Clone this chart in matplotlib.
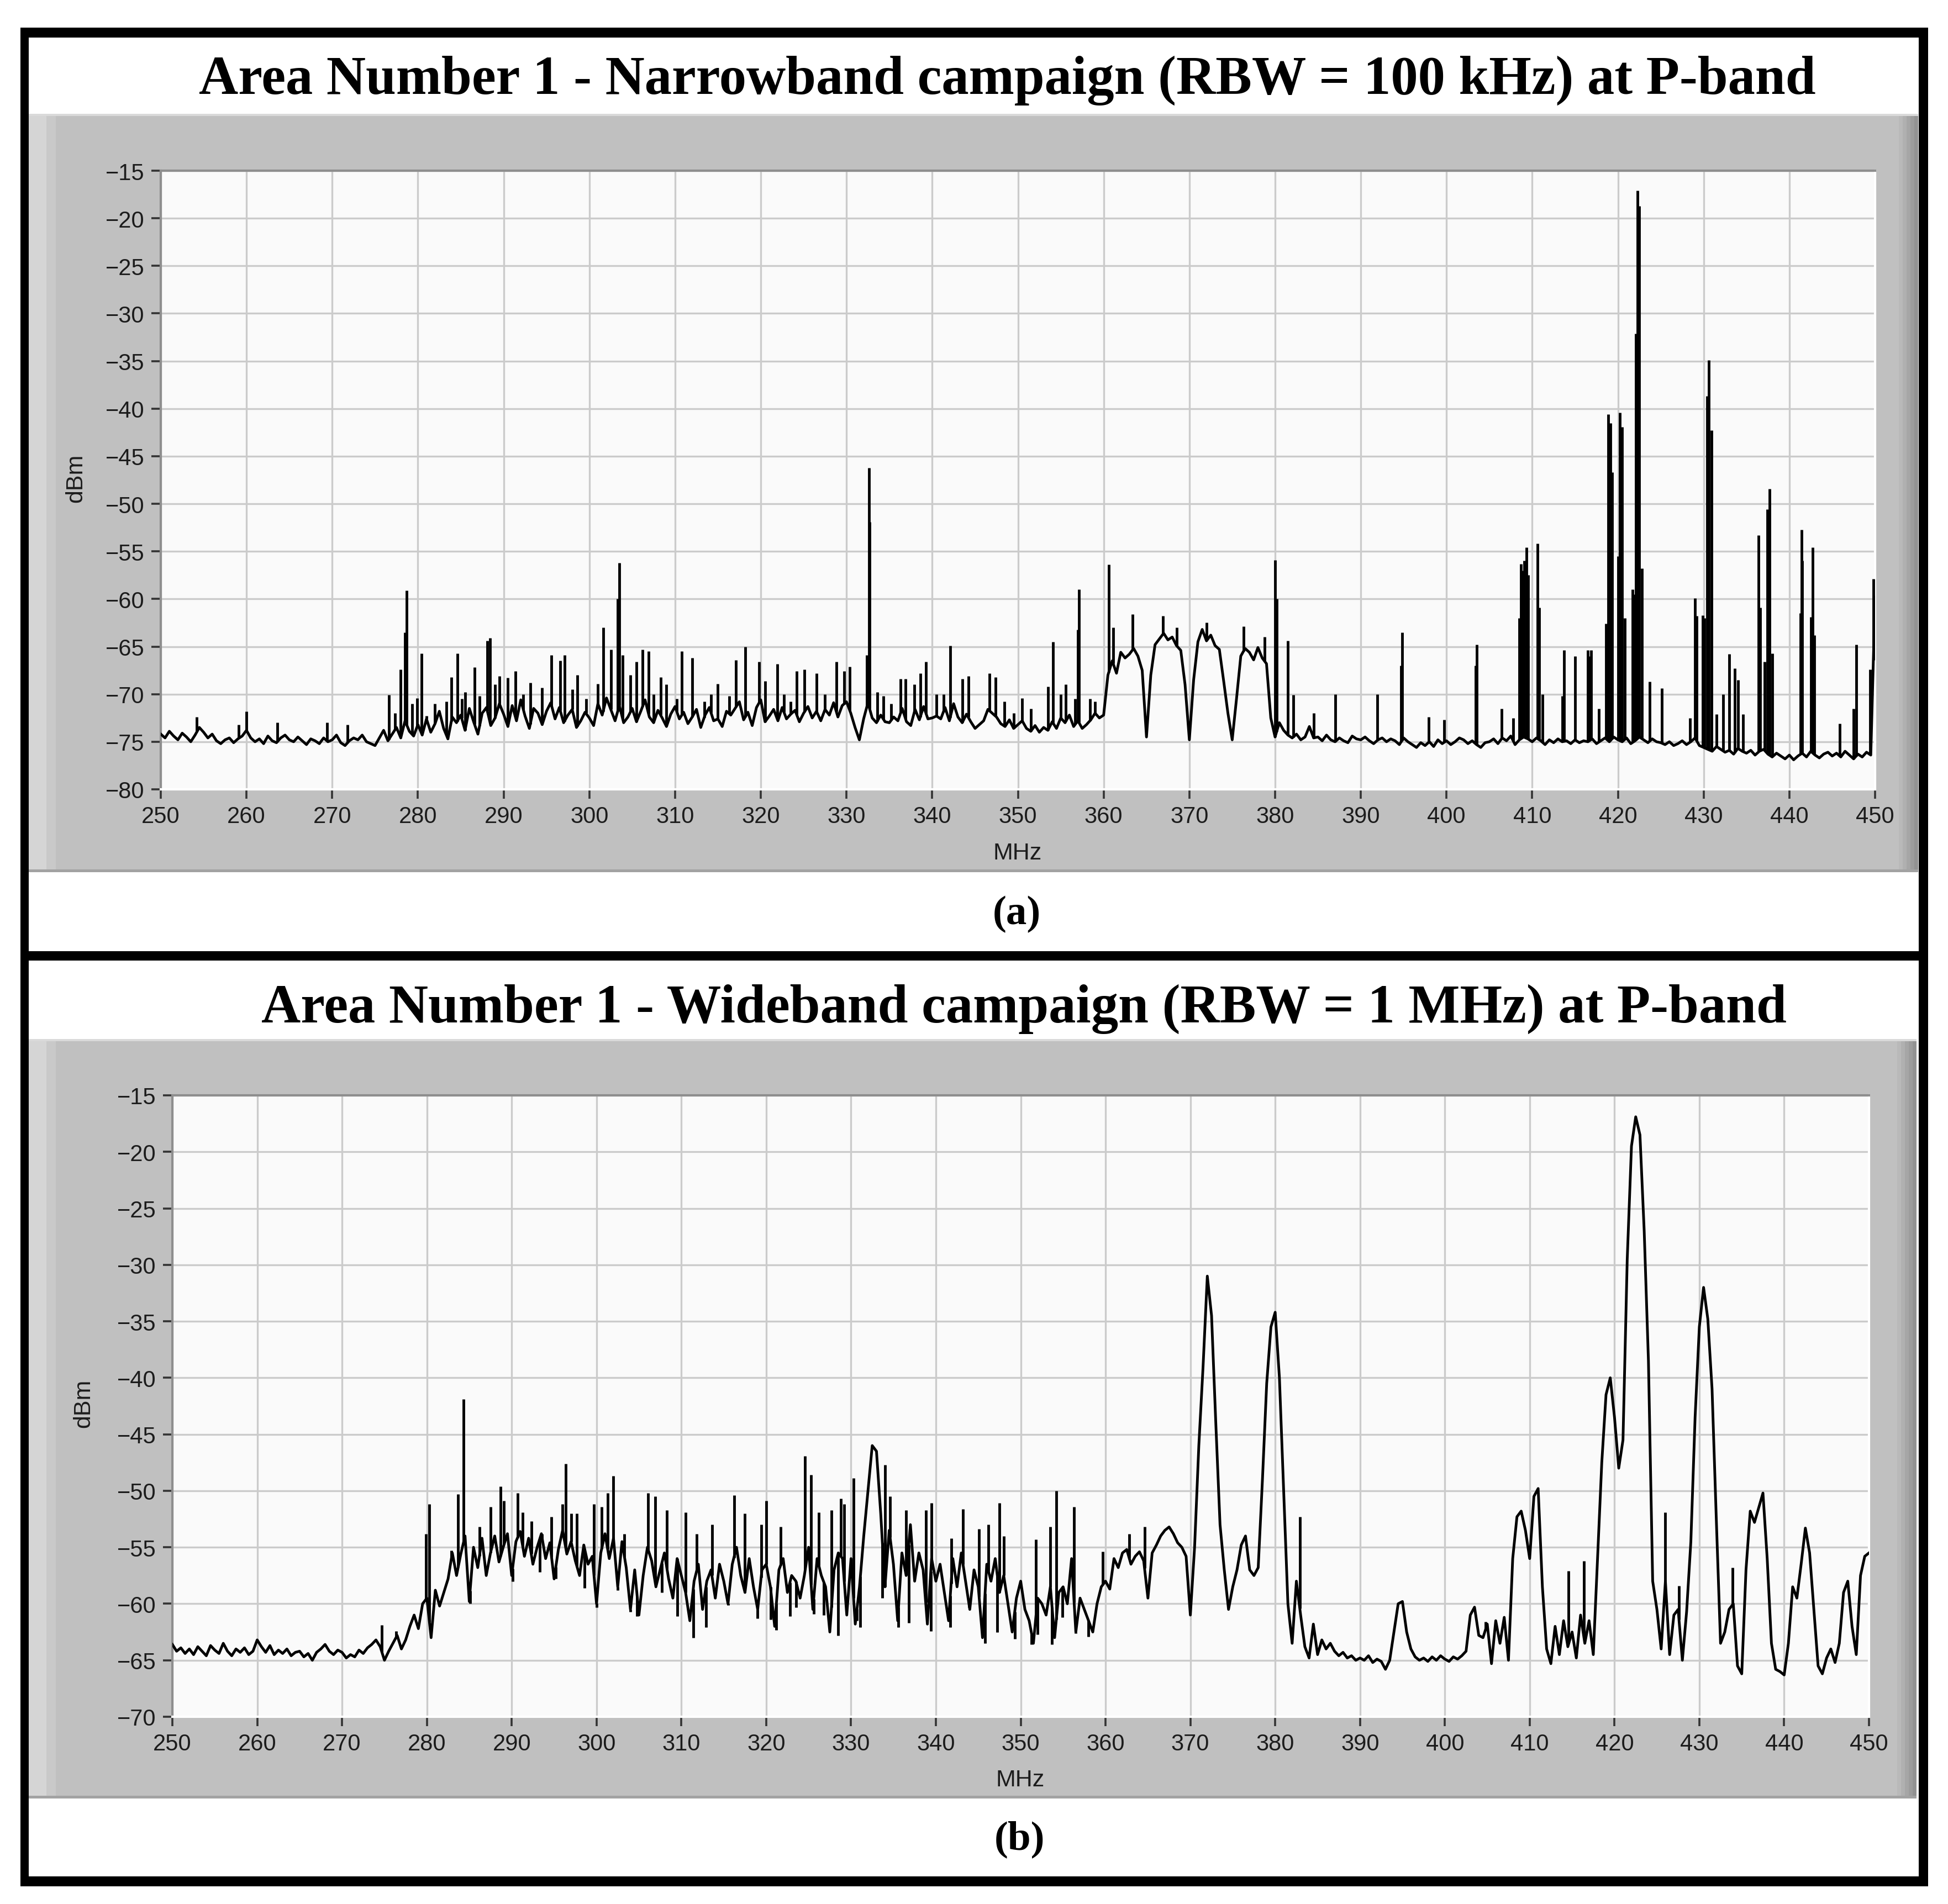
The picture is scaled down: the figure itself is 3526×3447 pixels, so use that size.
import numpy as np
import matplotlib.pyplot as plt
from matplotlib import font_manager
from matplotlib.patches import Rectangle

# sweep settings (both campaigns sweep 250-450 MHz, trace read every 0.5 MHz)
sweep_start, sweep_stop, sweep_step = 250.0, 450.0, 0.5

title_a = "Area Number 1 - Narrowband campaign (RBW = 100 kHz) at P-band"
title_b = "Area Number 1 - Wideband campaign (RBW = 1 MHz) at P-band"
freq_ticks = list(range(250, 451, 10))
dbm_ticks_a = list(range(-80, -14, 5))
dbm_ticks_b = list(range(-70, -14, 5))

# narrowband trace, one line per 5 MHz (250.0 ... 254.5, 255.0 ...)
nb_dbm = [
    -74.2, -74.6, -73.9, -74.4, -74.8, -74.1, -74.5, -75.0, -74.3, -73.5,
    -74.0, -74.6, -74.2, -74.9, -75.2, -74.8, -74.6, -75.1, -74.7, -74.4,
    -73.8, -74.6, -75.0, -74.7, -75.2, -74.4, -74.9, -75.1, -74.6, -74.3,
    -74.8, -75.0, -74.5, -74.9, -75.3, -74.7, -74.9, -75.2, -74.6, -75.0,
    -74.8, -74.3, -75.1, -75.4, -74.9, -74.6, -74.8, -74.3, -75.0, -75.2,
    -75.4, -74.6, -73.8, -74.9, -74.2, -73.5, -74.6, -72.8, -73.9, -74.4,
    -73.2, -74.3, -72.6, -74.0, -73.1, -71.8, -73.6, -74.7, -72.4, -73.0,
    -72.2, -73.8, -71.5, -72.9, -74.2, -72.0, -71.4, -73.3, -72.5, -71.0,
    -72.1, -73.4, -71.2, -72.8, -70.6, -72.3, -73.6, -71.5, -72.0, -73.2,
    -71.8, -70.9, -72.6, -71.4, -73.0, -72.2, -71.6, -73.5, -72.8, -71.9,
    -72.5, -73.3, -71.0, -72.2, -70.4, -71.6, -72.8, -71.2, -73.0, -72.4,
    -71.5, -72.9, -71.8, -70.6, -72.4, -73.0, -71.7, -72.5, -73.4, -72.1,
    -71.3, -72.6, -71.9, -73.1, -72.4, -71.6, -73.5, -72.2, -71.4, -72.8,
    -72.6, -73.4, -71.8, -72.2, -71.5, -70.8, -72.7, -71.9, -73.3, -71.4,
    -70.6, -72.9, -72.3, -71.6, -72.8, -71.4, -72.6, -72.1, -71.7, -72.9,
    -72.0, -71.3, -72.5, -71.8, -72.8, -71.6, -72.2, -70.9, -72.4, -71.2,
    -70.8, -72.0, -73.5, -74.8, -72.6, -70.9, -72.5, -73.0, -72.2, -72.9,
    -73.0, -72.4, -72.8, -71.5, -72.9, -73.3, -71.6, -72.7, -71.3, -72.6,
    -72.5, -72.3, -72.6, -71.4, -72.8, -71.0, -72.4, -73.0, -72.1, -72.9,
    -73.6, -73.2, -72.8, -71.6, -72.0, -72.4, -73.1, -73.4, -72.7, -73.6,
    -73.2, -72.8, -73.6, -73.9, -73.3, -74.0, -73.5, -73.8, -72.9, -73.6,
    -72.5, -73.0, -72.2, -73.4, -72.8, -73.6, -73.2, -72.7, -72.0, -72.5,
    -72.2, -68.0, -66.5, -67.8, -65.6, -66.2, -65.8, -65.2, -66.0, -67.5,
    -74.5, -68.0, -64.8, -64.2, -63.6, -64.3, -64.0, -64.9, -65.4, -69.0,
    -74.8, -68.5, -64.5, -63.2, -64.4, -63.8, -64.9, -65.3, -68.6, -72.0,
    -74.8, -70.5, -66.0, -65.2, -65.6, -66.4, -65.1, -66.2, -66.8, -72.5,
    -74.5, -73.0, -73.8, -74.3, -74.6, -74.2, -74.8, -74.5, -73.4, -74.6,
    -74.5, -74.9, -74.3, -74.8, -75.0, -74.6, -74.9, -75.1, -74.4, -74.7,
    -74.8, -74.5, -74.9, -75.2, -74.8, -74.6, -75.0, -74.7, -74.9, -75.3,
    -74.6, -75.0, -75.3, -75.6, -75.1, -75.4, -75.0, -75.5, -74.8, -75.2,
    -74.9, -75.3, -75.0, -74.6, -74.8, -75.2, -74.9, -75.3, -75.6, -75.1,
    -75.0, -74.7, -75.2, -74.6, -74.9, -74.4, -75.3, -74.8, -74.5, -74.7,
    -75.0, -74.6, -74.9, -75.3, -74.8, -75.1, -74.7, -75.0, -74.9, -75.2,
    -74.8, -75.1, -74.9, -75.0, -74.7, -75.2, -74.9, -74.6, -75.0, -74.5,
    -74.8, -75.0, -74.6, -75.2, -74.9, -74.5, -74.8, -75.1, -74.7, -75.0,
    -75.1, -75.3, -75.0, -75.4, -75.2, -74.9, -75.3, -75.0, -74.6, -75.4,
    -75.6, -75.8, -76.0, -75.5, -75.8, -76.1, -75.9, -76.3, -75.7, -76.0,
    -76.2, -75.9, -76.4, -76.0, -75.8, -76.3, -76.6, -76.2, -76.5, -76.8,
    -76.4, -76.9, -76.5, -76.2, -76.6, -76.0, -76.4, -76.7, -76.3, -76.1,
    -76.5, -76.2, -76.6, -76.0, -76.4, -76.8, -76.3, -76.6, -76.1, -76.4,
    -59.8,
]

# narrow carriers sticking out of the narrowband trace (MHz, peak dBm)
nb_spikes = [
    (254.2, -72.4), (259.1, -73.2), (260.0, -71.8), (263.6, -73.0), (269.4, -73.0),
    (271.8, -73.2), (276.6, -70.1), (277.3, -72.0), (278.0, -67.4), (278.5, -63.5),
    (278.7, -59.1), (279.3, -71.0), (279.9, -70.4), (280.4, -65.7), (281.0, -72.3),
    (282.0, -71.0), (283.3, -70.8), (283.9, -68.2), (284.6, -65.7), (285.1, -70.5),
    (285.5, -69.8), (286.6, -67.2), (287.2, -70.2), (288.1, -64.4), (288.4, -64.1),
    (289.0, -69.0), (289.5, -68.1), (290.5, -68.3), (291.4, -67.6), (292.3, -70.0),
    (293.1, -68.8), (294.5, -69.3), (295.6, -65.9), (296.6, -66.5), (297.1, -65.9),
    (298.0, -69.5), (298.6, -68.0), (299.6, -70.5), (301.0, -68.9), (301.6, -63.0),
    (302.5, -65.3), (303.3, -60.0), (303.5, -56.2), (303.9, -65.9), (304.8, -68.0),
    (305.5, -66.6), (306.2, -65.3), (306.9, -65.5), (307.5, -70.0), (308.3, -68.2),
    (309.0, -69.0), (310.2, -70.5), (310.8, -65.5), (312.0, -66.2), (313.4, -70.8),
    (314.2, -70.0), (315.0, -68.9), (316.3, -70.2), (317.1, -66.4), (318.2, -65.0),
    (319.8, -66.6), (320.5, -68.6), (321.9, -66.8), (322.7, -70.0), (323.5, -70.8),
    (324.2, -67.6), (325.1, -67.4), (326.5, -67.8), (327.5, -70.0), (328.8, -66.6),
    (329.7, -67.6), (330.4, -67.1), (332.4, -65.9), (332.6, -46.2), (332.7, -51.9),
    (333.6, -69.8), (334.3, -70.2), (335.2, -71.0), (336.3, -68.4), (336.9, -68.4),
    (337.9, -69.0), (338.6, -67.8), (339.3, -66.6), (340.5, -70.0), (341.3, -70.0),
    (342.1, -64.9), (343.5, -68.4), (344.2, -68.1), (346.7, -67.8), (347.4, -68.2),
    (348.4, -70.8), (349.5, -72.0), (350.5, -70.4), (351.5, -71.5), (353.5, -69.2),
    (354.1, -64.5), (355.0, -70.0), (355.6, -69.0), (356.7, -70.5), (357.0, -63.2),
    (357.1, -59.0), (358.4, -70.5), (359.0, -70.8), (360.6, -56.4), (361.1, -63.0),
    (363.4, -61.6), (366.9, -61.8), (368.5, -63.0), (372.0, -62.5), (376.3, -62.9),
    (378.8, -64.0), (380.0, -55.9), (380.2, -60.0), (381.5, -64.4), (382.1, -70.1),
    (384.5, -72.0), (387.0, -70.0), (391.9, -70.0), (394.7, -67.0), (394.8, -63.5),
    (397.9, -72.4), (399.7, -72.7), (403.4, -67.0), (403.5, -64.8), (406.4, -71.5),
    (407.8, -72.5), (408.5, -62.0), (408.7, -56.3), (408.9, -57.0), (409.1, -56.0),
    (409.3, -54.6), (409.5, -57.5), (410.6, -54.2), (410.8, -60.9), (411.2, -70.0),
    (413.5, -70.2), (413.7, -65.4), (415.0, -66.0), (416.5, -65.4), (416.7, -66.0),
    (416.9, -65.4), (417.8, -71.5), (418.6, -62.6), (418.9, -40.6), (419.1, -41.5),
    (419.3, -46.7), (420.0, -55.5), (420.2, -40.4), (420.5, -41.9), (420.8, -62.0),
    (421.7, -59.0), (421.9, -59.5), (422.1, -32.1), (422.3, -17.1), (422.5, -18.7),
    (422.8, -56.8), (423.7, -68.7), (425.1, -69.4), (428.4, -72.5), (429.0, -59.9),
    (429.2, -61.8), (429.9, -61.7), (430.1, -62.0), (430.4, -38.7), (430.6, -34.9),
    (430.9, -42.3), (431.5, -72.1), (432.3, -70.0), (433.0, -65.8), (433.6, -67.3),
    (434.0, -68.5), (434.6, -72.1), (436.4, -53.3), (436.6, -60.9), (437.1, -66.6),
    (437.4, -50.6), (437.7, -48.4), (438.0, -65.7), (441.3, -61.5), (441.4, -52.7),
    (441.5, -56.0), (442.5, -61.9), (442.7, -54.6), (442.9, -63.8), (445.9, -73.1),
    (447.5, -71.5), (447.8, -64.8), (449.4, -67.4), (449.8, -57.9),
]

# wideband trace, one line per 5 MHz
wb_dbm = [
    -63.6, -64.2, -63.9, -64.4, -64.0, -64.5, -63.8, -64.2, -64.6, -63.7,
    -64.1, -64.4, -63.5, -64.2, -64.6, -64.0, -64.3, -63.9, -64.5, -64.2,
    -63.2, -63.8, -64.3, -63.7, -64.5, -64.1, -64.4, -64.0, -64.6, -64.3,
    -64.2, -64.7, -64.4, -65.0, -64.3, -64.0, -63.6, -64.2, -64.5, -64.1,
    -64.3, -64.8, -64.5, -64.7, -64.1, -64.4, -63.9, -63.6, -63.2, -63.8,
    -65.0, -64.2, -63.5, -62.8, -64.0, -63.2, -62.0, -61.0, -62.2, -60.0,
    -59.5, -63.0, -58.8, -60.2, -59.0, -57.8, -55.5, -57.5, -55.6, -54.0,
    -59.8, -55.0, -56.8, -54.2, -57.5, -55.5, -54.0, -56.3, -55.0, -53.8,
    -57.5, -54.5, -53.6, -55.8, -54.2, -56.5, -55.0, -53.8, -56.0, -54.6,
    -57.8, -55.2, -53.5, -55.6, -54.5, -56.2, -57.5, -54.8, -56.5, -55.8,
    -60.0, -55.5, -53.8, -56.0, -54.2, -58.5, -54.5, -56.8, -60.5, -57.0,
    -61.0, -57.5, -55.0, -56.2, -58.5, -57.0, -55.5, -57.8, -59.5, -56.0,
    -57.5, -59.0, -61.5, -58.0, -56.5, -60.5, -58.0, -57.0, -59.5, -56.5,
    -58.0, -60.0, -56.5, -55.0, -57.5, -59.0, -56.0, -58.5, -60.5, -57.0,
    -56.5, -58.5, -62.0, -57.0, -56.0, -59.0, -57.5, -58.0, -59.5, -57.5,
    -55.0, -60.5, -56.0, -57.5, -58.5, -62.5, -57.0, -55.5, -56.0, -61.0,
    -56.0, -61.8, -58.5, -54.0, -50.0, -46.0, -46.5, -52.0, -58.5, -53.5,
    -56.5, -61.5, -55.5, -57.5, -53.0, -58.0, -55.5, -57.0, -61.8, -56.0,
    -58.0, -56.5, -59.0, -61.5, -56.0, -58.5, -55.5, -58.0, -60.5, -57.0,
    -58.5, -63.0, -56.5, -58.0, -56.0, -59.0, -57.5, -60.0, -62.5, -59.5,
    -58.0, -60.5, -61.5, -63.5, -59.5, -60.0, -61.0, -58.5, -63.0, -59.0,
    -58.5, -60.0, -56.0, -62.5, -59.5, -60.5, -61.5, -62.5, -60.0, -58.5,
    -58.0, -58.7, -56.0, -56.8, -55.5, -55.2, -56.5, -55.8, -55.4, -56.2,
    -59.5, -55.5, -54.8, -54.0, -53.5, -53.2, -53.8, -54.6, -55.0, -55.8,
    -61.0, -55.0, -46.0, -39.0, -31.0, -34.5, -44.0, -53.0, -57.0, -60.5,
    -58.5, -57.0, -54.8, -54.0, -57.0, -57.5, -56.8, -49.0, -40.5, -35.5,
    -34.2, -40.0, -50.0, -60.0, -63.5, -58.0, -61.0, -63.8, -64.8, -61.8,
    -64.5, -63.2, -64.0, -63.5, -64.2, -64.6, -64.3, -64.8, -64.6, -65.0,
    -64.8, -65.0, -64.6, -65.2, -64.9, -65.1, -65.8, -65.0, -62.5, -60.0,
    -59.8, -62.5, -64.0, -64.7, -65.0, -64.8, -65.1, -64.7, -65.0, -64.6,
    -64.9, -65.1, -64.7, -64.9, -64.6, -64.2, -61.0, -60.3, -62.8, -63.0,
    -61.8, -65.3, -61.5, -63.5, -61.2, -65.0, -56.0, -52.3, -51.8, -53.5,
    -56.0, -50.5, -49.8, -58.5, -64.0, -65.3, -62.0, -64.5, -61.5, -63.8,
    -62.5, -64.8, -61.0, -63.5, -61.5, -64.5, -56.0, -47.5, -41.5, -40.0,
    -43.5, -48.0, -45.5, -29.5, -19.5, -16.9, -18.5, -27.0, -38.5, -58.0,
    -60.5, -64.0, -58.0, -64.5, -61.0, -60.5, -65.0, -60.7, -54.5, -43.5,
    -35.5, -32.0, -34.8, -41.0, -52.5, -63.5, -62.5, -60.5, -60.0, -65.5,
    -66.2, -57.0, -51.8, -52.8, -51.5, -50.2, -56.0, -63.5, -65.8, -66.0,
    -66.3, -63.5, -58.5, -59.5, -56.5, -53.3, -55.5, -60.5, -65.5, -66.2,
    -64.8, -64.0, -65.2, -63.5, -59.0, -58.0, -62.0, -64.5, -57.5, -55.8,
    -55.5,
]

# narrow excursions of the wideband trace, up (spikes) and down (dips)
wb_spikes = [
    (274.7, -61.9), (276.4, -62.4), (279.9, -53.8), (280.3, -51.2), (282.9, -55.3),
    (283.7, -50.3), (284.3, -41.9), (286.2, -53.2), (287.5, -51.4), (288.7, -49.6),
    (289.1, -50.9), (290.7, -50.2), (291.3, -51.9), (292.3, -52.7), (293.6, -53.8),
    (294.7, -52.3), (296.0, -51.2), (296.4, -47.6), (297.0, -52.0), (297.7, -52.0),
    (299.7, -51.2), (300.6, -51.4), (301.3, -50.2), (302.0, -48.7), (303.3, -53.8),
    (306.1, -50.2), (306.9, -50.5), (308.3, -51.7), (310.5, -51.9), (311.8, -53.8),
    (313.6, -53.0), (316.2, -50.4), (317.5, -52.0), (319.4, -53.0), (320.0, -50.9),
    (321.7, -53.2), (324.6, -46.9), (325.3, -48.6), (326.2, -51.9), (327.7, -51.7),
    (328.8, -50.7), (329.2, -51.2), (330.3, -48.9), (334.0, -47.7), (334.6, -50.5),
    (336.5, -51.7), (338.8, -51.7), (339.5, -51.1), (341.8, -54.2), (343.2, -51.6),
    (345.1, -53.4), (346.2, -53.0), (347.5, -51.1), (348.0, -54.0), (351.8, -54.3),
    (353.5, -53.2), (354.2, -50.0), (356.3, -51.4), (359.7, -55.4), (362.8, -53.8),
    (364.6, -53.2), (382.9, -52.3), (404.8, -61.6), (414.6, -57.1), (416.4, -56.2),
    (426.0, -51.9), (427.6, -58.4), (433.9, -56.8),
]
wb_dips = [
    (285.1, -60.0), (290.1, -58.0), (293.3, -57.2), (295.2, -57.8), (298.6, -58.6),
    (300.0, -60.3), (302.5, -58.8), (304.0, -60.7), (304.8, -61.1), (307.7, -59.0),
    (309.5, -61.1), (311.4, -63.0), (312.9, -62.1), (315.5, -60.1), (319.0, -61.3),
    (320.5, -61.4), (321.2, -62.3), (322.8, -61.1), (323.5, -60.3), (325.6, -60.9),
    (326.8, -61.0), (328.5, -62.8), (330.7, -61.5), (331.1, -62.1), (333.7, -59.5),
    (335.6, -62.1), (336.8, -61.7), (339.4, -62.4), (341.7, -62.1), (343.9, -60.3),
    (345.8, -63.5), (347.2, -62.5), (349.3, -63.1), (351.3, -63.6), (352.0, -62.7),
    (353.7, -63.6), (354.9, -61.2), (356.5, -62.6), (358.0, -62.9),
]

W, H = 3526, 3448
fig = plt.figure(figsize=(W / 100, H / 100), dpi=100)
fig.patch.set_facecolor('white')

def box(x0, y0, x1, y1, color, z=-5):
    # rectangle given in pixels from the top-left corner
    fig.add_artist(Rectangle((x0 / W, 1 - y1 / H), (x1 - x0) / W, (y1 - y0) / H,
                             transform=fig.transFigure, facecolor=color,
                             edgecolor='none', zorder=z))

# LabVIEW style grey graph frames
for top, bottom, right in [(207, 1580, 3472), (1882, 3257, 3469)]:
    box(52, top, right, bottom, '#c0c0c0')
    box(52, top, 84, bottom, '#d5d5d5')
    box(84, top, 101, bottom, '#c9c9c9')
    for i, c in enumerate(['#b9b9b9', '#b0b0b0', '#a6a6a6', '#9c9c9c', '#929292']):
        box(right - 35 + i * 7, top, right - 28 + i * 7, bottom, c)
    box(52, top, right, top + 4, '#dadada')
    box(52, bottom - 5, right, bottom, '#a2a2a2')

# black outer border and divider
box(37, 51, 3490, 69, 'black', 10)
box(37, 3398, 3490, 3416, 'black', 10)
box(37, 51, 52, 3416, 'black', 10)
box(3473, 51, 3490, 3416, 'black', 10)
box(37, 1723, 3490, 1740, 'black', 10)

# condensed sans for the scales if present, plain Liberation Sans otherwise
try:
    font_manager.findfont('Liberation Sans Narrow', fallback_to_default=False)
    tick_font, tick_size = 'Liberation Sans Narrow', 34
except ValueError:
    tick_font, tick_size = 'Liberation Sans', 30

TRACE_LW = 3.5

def spectrum_axes(left, top, right, bottom, trace, ylim, yticks):
    ax = fig.add_axes([left / W, 1 - bottom / H, (right - left) / W, (bottom - top) / H])
    ax.set_facecolor('#fafafa')
    freqs = np.arange(sweep_start, sweep_stop + sweep_step / 2, sweep_step)
    ax.plot(freqs, trace, color='black', lw=TRACE_LW, zorder=3)
    ax.set_xlim(sweep_start, sweep_stop)
    ax.set_ylim(*ylim)
    ax.set_xticks(freq_ticks)
    ax.set_yticks(yticks)
    ax.grid(True, color='#cbcbcb', lw=2.4)
    ax.set_axisbelow(True)
    ax.tick_params(direction='out', length=12, width=2.6, color='#333333',
                   labelsize=tick_size, labelcolor='#1c1c1c', pad=9)
    for lbl in ax.get_xticklabels() + ax.get_yticklabels():
        lbl.set_fontfamily(tick_font)
    for side in ['left', 'top']:
        ax.spines[side].set_color('#8e8e8e')
        ax.spines[side].set_linewidth(3)
    for side in ['right', 'bottom']:
        ax.spines[side].set_color('#ffffff')
        ax.spines[side].set_linewidth(3)
    return ax, freqs

def draw_lines(ax, freqs, trace, marks):
    # vertical strokes from the trace up (or down) to the read value
    mf, mv = np.array(marks).T
    base = np.interp(mf, freqs, trace)
    ax.vlines(mf, base, mv, colors='black', lw=TRACE_LW, zorder=3)

ax_a, f_a = spectrum_axes(291, 310, 3394, 1430, nb_dbm, (-80, -15), dbm_ticks_a)
draw_lines(ax_a, f_a, nb_dbm, nb_spikes)

ax_b, f_b = spectrum_axes(312, 1984, 3383, 3109, wb_dbm, (-70, -15), dbm_ticks_b)
draw_lines(ax_b, f_b, wb_dbm, wb_spikes)
draw_lines(ax_b, f_b, wb_dbm, wb_dips)

serif = 'Liberation Serif'
fig.text(1823 / W, 1 - 170 / H, title_a, ha='center', va='baseline',
         fontsize=71, fontweight='bold', family=serif)
fig.text(1853 / W, 1 - 1851 / H, title_b, ha='center', va='baseline',
         fontsize=71, fontweight='bold', family=serif)
fig.text(1840 / W, 1 - 1655 / H, '(a)', ha='center', va='center',
         fontsize=54, fontweight='bold', family=serif)
fig.text(1845 / W, 1 - 3330 / H, '(b)', ha='center', va='center',
         fontsize=54, fontweight='bold', family=serif)

for x, y in [(137, 866), (151, 2541)]:
    fig.text(x / W, 1 - y / H, 'dBm', rotation=90, ha='center', va='center',
             fontsize=31, color='#1c1c1c', family='Liberation Sans')
for x, y in [(1842, 1545), (1847, 3223)]:
    fig.text(x / W, 1 - y / H, 'MHz', ha='center', va='center',
             fontsize=31, color='#1c1c1c', family='Liberation Sans')

fig.savefig('out.png', dpi=100)
